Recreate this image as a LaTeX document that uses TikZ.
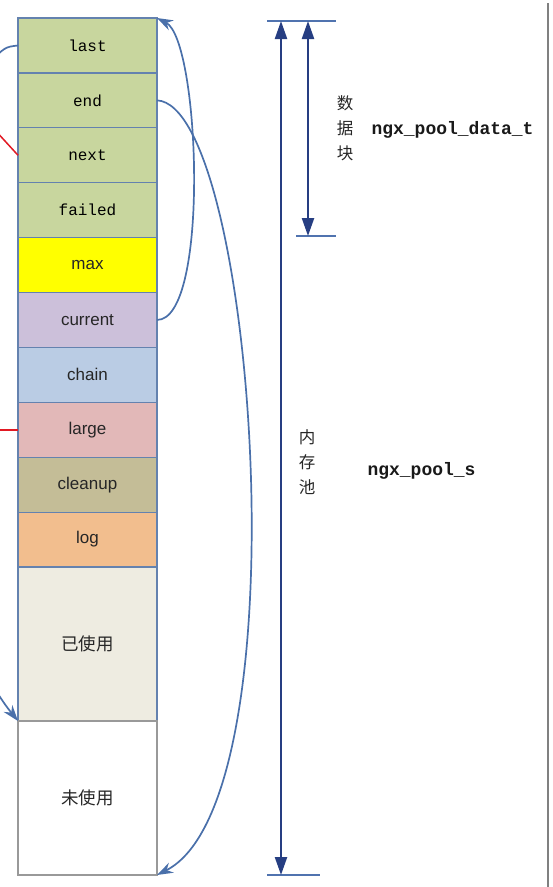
\documentclass[tikz,border=0pt]{standalone}
\usepackage{fontspec}
\setmainfont{Liberation Sans}
\setmonofont{Liberation Mono}
\newfontfamily\cjk{Noto Sans CJK SC}
\usetikzlibrary{positioning,arrows.meta}
\definecolor{cellborder}{RGB}{100,130,175}
\definecolor{cellgreen}{RGB}{200,214,158}
\definecolor{cellyellow}{RGB}{255,255,0}
\definecolor{celllilac}{RGB}{204,192,218}
\definecolor{cellblue}{RGB}{186,204,228}
\definecolor{cellpink}{RGB}{226,184,184}
\definecolor{cellolive}{RGB}{196,189,151}
\definecolor{cellorange}{RGB}{242,190,142}
\definecolor{cellused}{RGB}{238,236,225}
\definecolor{curveblue}{RGB}{74,112,170}
\definecolor{dimblue}{RGB}{38,62,130}
\definecolor{tickblue}{RGB}{80,115,175}
\definecolor{linkred}{RGB}{225,25,35}
\tikzstyle{cell} = [rectangle, minimum width=139pt, minimum height=54.9pt, inner sep=0pt, outer sep=0pt, text centered, draw=cellborder, line width=1.2pt, text=black!85, font=\fontsize{17}{20}\selectfont]
\tikzstyle{mono} = [cell, text=black, font=\ttfamily\fontsize{16}{18}\selectfont]
\tikzstyle{area} = [cell, minimum height=154pt, font=\cjk\fontsize{17.5}{20}\selectfont]
\tikzstyle{curve} = [line width=1.7pt, draw=curveblue, ->, >={Stealth[length=16pt,width=11pt]}]
\tikzstyle{redlink} = [line width=1.5pt, draw=linkred]
\tikzstyle{dim} = [line width=2.3pt, draw=dimblue, <->, >={Triangle[length=18pt,width=12pt]}]
\tikzstyle{tick} = [line width=2pt, draw=tickblue]
\tikzstyle{vlabel} = [align=center, text=black!85, font=\cjk\fontsize{16.5}{25}\selectfont]
\tikzstyle{typename} = [anchor=west, text=black!90, font=\ttfamily\bfseries\fontsize{18}{20}\selectfont]

\begin{document}
\begin{tikzpicture}[x=1pt, y=-1pt, node distance=0pt]
\useasboundingbox (0,0) rectangle (553,887);
\clip (0,0) rectangle (553,887);
\node (last) [mono, fill=cellgreen, anchor=north west] at (18,18) {last};
\node (end) [mono, fill=cellgreen, below=of last] {end};
\node (next) [mono, fill=cellgreen, below=of end] {next};
\node (failed) [mono, fill=cellgreen, below=of next] {failed};
\node (max) [cell, fill=cellyellow, below=of failed] {max};
\node (current) [cell, fill=celllilac, below=of max] {current};
\node (chain) [cell, fill=cellblue, below=of current] {chain};
\node (large) [cell, fill=cellpink, below=of chain] {large};
\node (cleanup) [cell, fill=cellolive, below=of large] {cleanup};
\node (log) [cell, fill=cellorange, below=of cleanup] {log};
\node (used) [area, fill=cellused, below=of log] {已使用};
\node (unused) [area, fill=white, draw=black!40, below=of used] {未使用};

\node (datalabel) [vlabel] at (345,128) {数\\据\\块};
\node (datatype) [typename] at (368,130) {ngx\_pool\_data\_t};
\node (poollabel) [vlabel] at (307,462) {内\\存\\池};
\node (pooltype) [typename] at (364,471) {ngx\_pool\_s};

\coordinate (pooltop) at (281,21);
\coordinate (poolbot) at (281,875);
\coordinate (datatop) at (308,21);
\coordinate (databot) at (308,236);
\coordinate (tickA1) at (267,21);
\coordinate (tickA2) at (336,21);
\coordinate (tickB1) at (296,236);
\coordinate (tickB2) at (336,236);
\coordinate (tickC1) at (267,875);
\coordinate (tickC2) at (320,875);

\coordinate (lastout) at (-12,64);
\coordinate (nextout) at (-6,129);
\coordinate (largeout) at ([xshift=-25pt]large.west);
\coordinate (usedin) at (-6,688);

\draw [tick] (tickA1) -- (tickA2);
\draw [tick] (tickB1) -- (tickB2);
\draw [tick] (tickC1) -- (tickC2);
\draw [dim] (pooltop) -- (poolbot);
\draw [dim] (datatop) -- (databot);

\draw [curve] (current.east) .. controls (210,320) and (200,40) .. (last.north east);
\draw [curve] (end.east) .. controls (255,105) and (305,800) .. (unused.south east);
\draw [curve, -] (last.west) .. controls (5,47) .. (lastout);
\draw [curve] (usedin) .. controls (6,706) .. (used.south west);
\draw [redlink] (next.west) -- (nextout);
\draw [redlink] (large.west) -- (largeout);

\draw [line width=2pt, draw=black!50] (548,3) -- (548,887);
\end{tikzpicture}
\end{document}
